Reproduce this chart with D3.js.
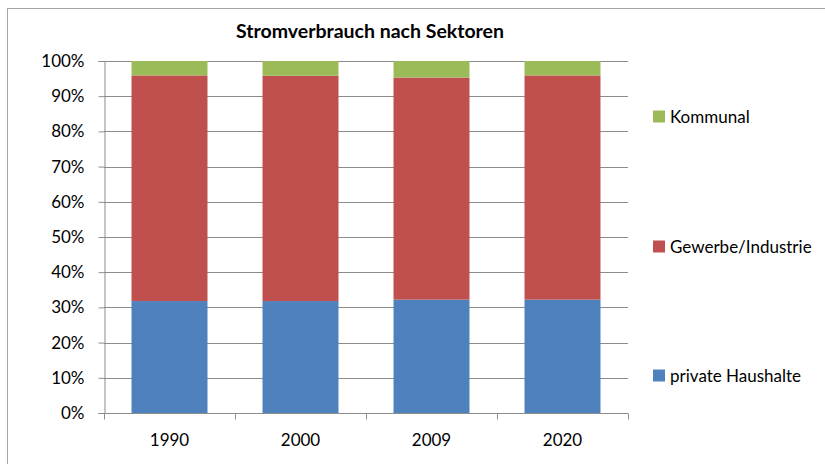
<!DOCTYPE html>
<html>
<head>
<meta charset="utf-8">
<script src="https://cdn.jsdelivr.net/npm/d3@7"></script>
<style>
  body { margin: 0; background: #fff; }
  text { font-family: Lato, "Noto Sans", sans-serif; fill: #000; }
</style>
</head>
<body>
<div id="chart"></div>
<script>
const years = ["1990", "2000", "2009", "2020"];
const privateHaushalte = [31.8, 31.8, 32.2, 32.2];
const gewerbeIndustrie = [64.1, 64.0, 63.1, 63.7];
const kommunal = [4.1, 4.2, 4.7, 4.1];
const seriesNames = ["private Haushalte", "Gewerbe/Industrie", "Kommunal"];
const seriesColors = ["#4f81bd", "#c0504d", "#9bbb59"];
const yTicks = [0, 0.1, 0.2, 0.3, 0.4, 0.5, 0.6, 0.7, 0.8, 0.9, 1];

const width = 825;
const height = 464;
const plot = { left: 104, right: 628, top: 61, bottom: 413 };

// build rows for the stack
const rows = years.map((y, i) => ({
  year: y,
  "private Haushalte": privateHaushalte[i],
  "Gewerbe/Industrie": gewerbeIndustrie[i],
  "Kommunal": kommunal[i],
}));
const stacked = d3.stack().keys(seriesNames).offset(d3.stackOffsetExpand)(rows);

const svg = d3
  .select("#chart")
  .append("svg")
  .attr("width", width)
  .attr("height", height);

// outer frame
svg.append("rect")
  .attr("x", 7.5)
  .attr("y", 8.5)
  .attr("width", 840)
  .attr("height", 480)
  .attr("fill", "none")
  .attr("stroke", "#a6a6a6");

const xScale = d3.scaleBand()
  .domain(years)
  .range([plot.left, plot.right])
  .paddingInner(0.42)
  .paddingOuter(0.21);

const yScale = d3.scaleLinear()
  .domain([0, 1])
  .range([plot.bottom, plot.top]);

// gridlines
svg.append("g")
  .selectAll("line")
  .data(yTicks.slice(1))
  .join("line")
  .attr("x1", plot.left)
  .attr("x2", plot.right)
  .attr("y1", (d) => Math.round(yScale(d)) + 0.5)
  .attr("y2", (d) => Math.round(yScale(d)) + 0.5)
  .attr("stroke", "#8c8c8c");

// bars
svg.append("g")
  .selectAll("g")
  .data(stacked)
  .join("g")
  .attr("fill", (d, i) => seriesColors[i])
  .selectAll("rect")
  .data((d) => d)
  .join("rect")
  .attr("x", (d) => xScale(d.data.year))
  .attr("y", (d) => yScale(d[1]))
  .attr("width", xScale.bandwidth())
  .attr("height", (d) => yScale(d[0]) - yScale(d[1]));

// y axis
const yAxis = svg.append("g")
  .attr("transform", `translate(${plot.left + 0.5},0)`)
  .call(d3.axisLeft(yScale).tickValues(yTicks).tickFormat(d3.format(".0%")).tickSizeOuter(0).tickSize(6).tickPadding(14));
yAxis.select(".domain").attr("stroke", "#8c8c8c");
yAxis.selectAll(".tick line").attr("stroke", "#8c8c8c");
yAxis.selectAll("text").style("font-size", "17px").attr("fill", "#000").attr("font-family", null);

// x axis: ticks sit at category boundaries
const xAxis = svg.append("g")
  .attr("transform", `translate(0,${plot.bottom + 0.5})`);
xAxis.append("line")
  .attr("x1", plot.left)
  .attr("x2", plot.right)
  .attr("stroke", "#8c8c8c");
const bounds = years.map((y) => xScale(y) - xScale.step() * 0.21).concat([plot.right]);
xAxis.selectAll(".bt")
  .data(bounds)
  .join("line")
  .attr("class", "bt")
  .attr("x1", (d) => Math.round(d) + 0.5)
  .attr("x2", (d) => Math.round(d) + 0.5)
  .attr("y1", 0)
  .attr("y2", 6)
  .attr("stroke", "#8c8c8c");
xAxis.selectAll(".lbl")
  .data(years)
  .join("text")
  .attr("class", "lbl")
  .attr("x", (d) => xScale(d) + xScale.bandwidth() / 2)
  .attr("y", 32.5)
  .attr("text-anchor", "middle")
  .style("font-size", "17px")
  .text((d) => d);

// title
svg.append("text")
  .attr("x", 370)
  .attr("y", 37.5)
  .attr("text-anchor", "middle")
  .style("font-size", "19.5px")
  .style("font-weight", "bold")
  .text("Stromverbrauch nach Sektoren");

// legend (top entry is Kommunal)
const legendY = [375.5, 246.5, 116.5];
const legend = svg.append("g")
  .selectAll("g")
  .data(seriesNames)
  .join("g")
  .attr("transform", (d, i) => `translate(653,${legendY[i]})`);
legend.append("rect")
  .attr("x", 0)
  .attr("y", -6)
  .attr("width", 12)
  .attr("height", 12)
  .attr("fill", (d, i) => seriesColors[i]);
legend.append("text")
  .attr("x", 17)
  .attr("y", 6)
  .style("font-size", "17px")
  .text((d) => d);
</script>
</body>
</html>
